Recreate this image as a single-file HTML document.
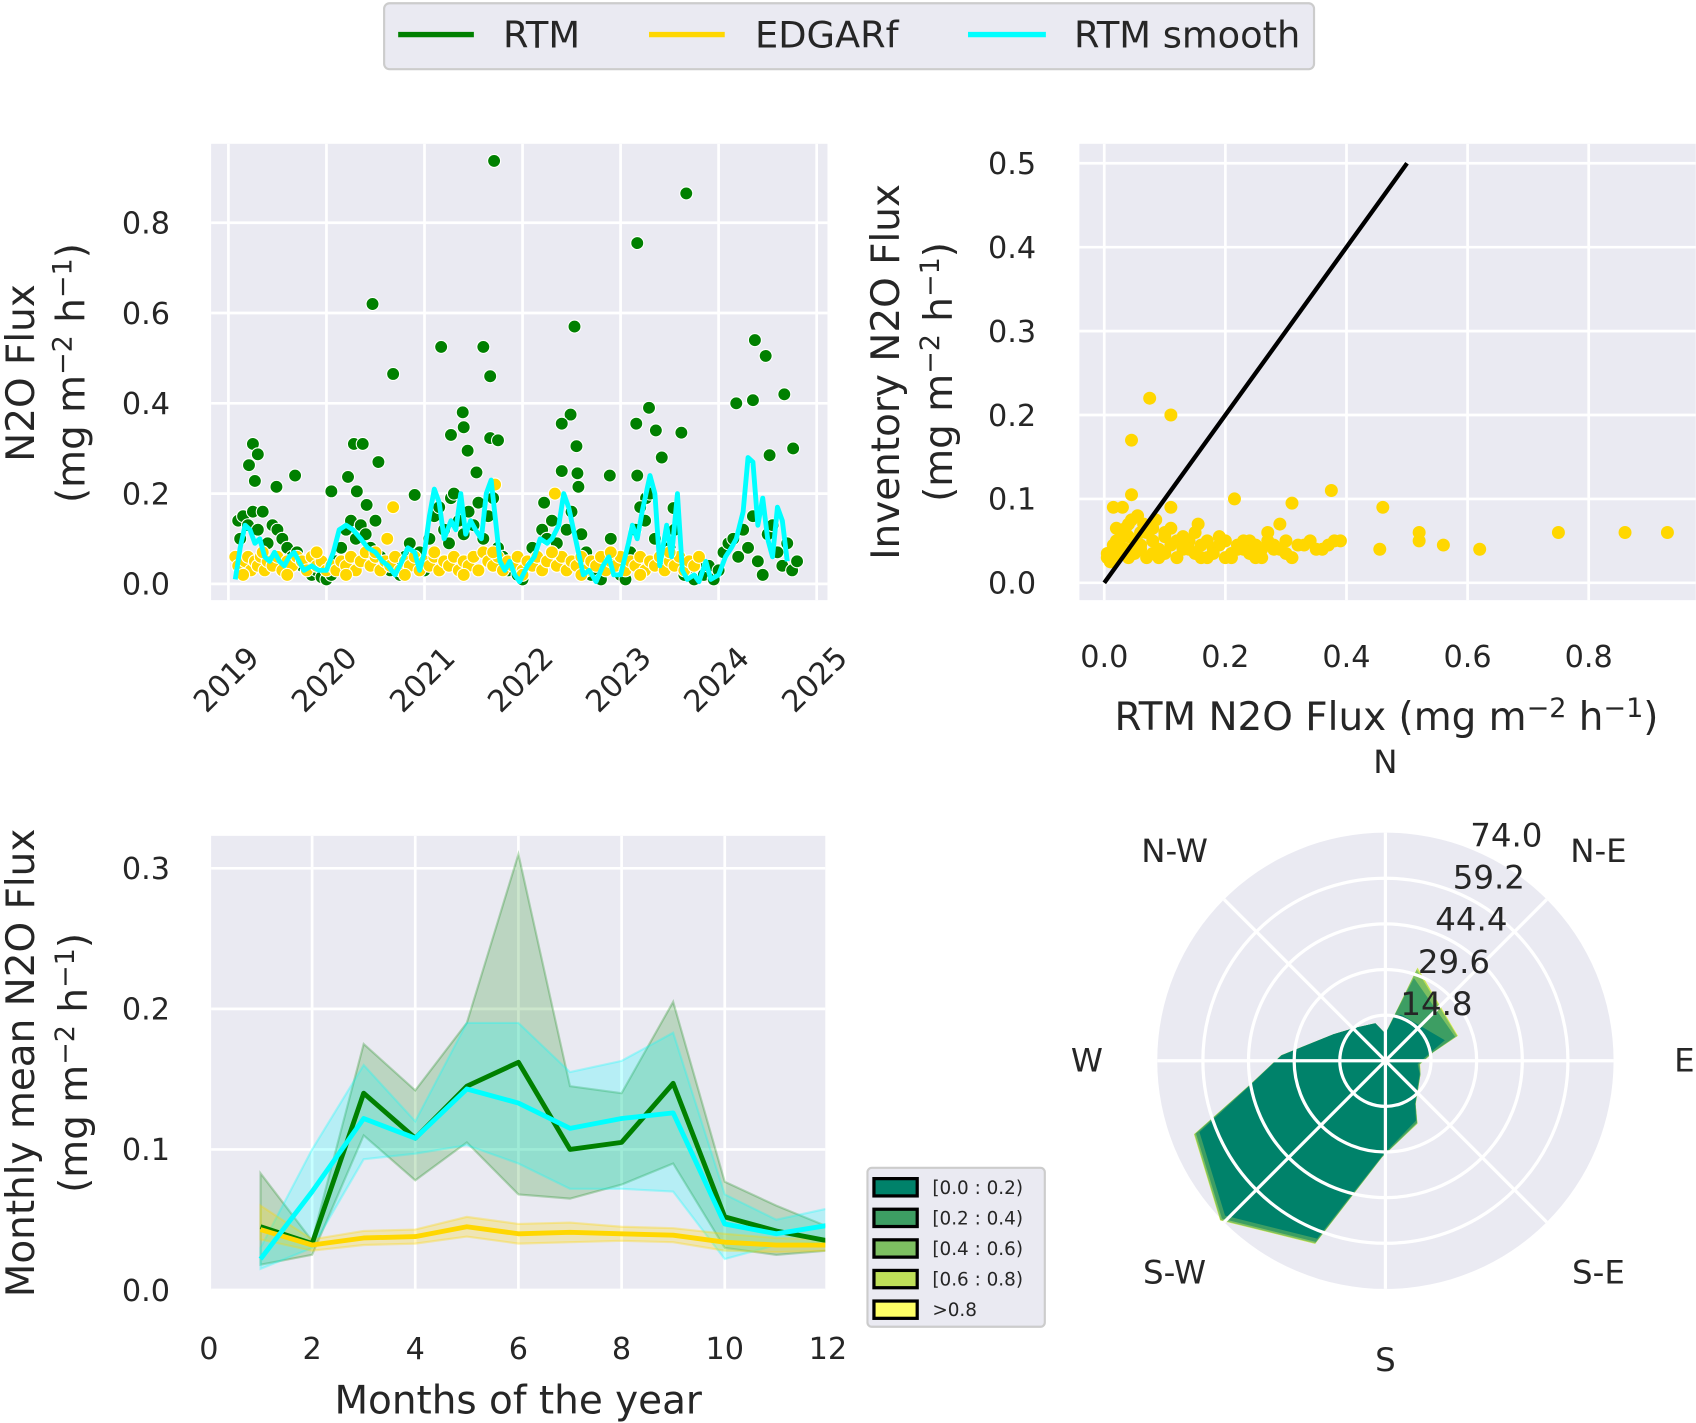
<!DOCTYPE html>
<html><head><meta charset="utf-8">
<style>
html,body{margin:0;padding:0;background:#fff;}
svg{display:block;font-family:"DejaVu Sans","Liberation Sans",sans-serif;}
text{fill:#262626;}
</style></head>
<body>
<svg id="fig" width="1696" height="1423" viewBox="0 0 1568 1316" xmlns="http://www.w3.org/2000/svg">
  <g>
    <rect x="355" y="3" width="860" height="61" rx="5" fill="#eaeaf2" stroke="#cccccc" stroke-width="2"/>
    <line x1="368" y1="32" x2="438" y2="32" stroke="#008000" stroke-width="5"/>
    <text x="465" y="44" font-size="34">RTM</text>
    <line x1="600" y1="32" x2="670" y2="32" stroke="#ffd700" stroke-width="5"/>
    <text x="698" y="44" font-size="34">EDGARf</text>
    <line x1="895" y1="32" x2="967" y2="32" stroke="#00ffff" stroke-width="5"/>
    <text x="993" y="44" font-size="34">RTM smooth</text>
  </g>
  <g id="p1"></g>
  <g id="p2"></g>
  <g id="p3"></g>
  <g id="p4"></g>
</svg>
<script>
// ---------- Panel 1 data ----------
const rtmYears = [2021.71,2023.67,2023.17,2020.47,2022.53,2020.68,2021.17,2021.6,2021.67,2024.37,2024.48,2024.18,2024.35,2024.67,2024.76,2024.52,2023.29,2023.16,2023.36,2023.62,2023.42,2023.17,2022.49,2022.4,2022.55,2022.56,2021.39,2021.4,2021.27,2021.44,2021.67,2021.75,2021.53,2019.25,2019.3,2019.21,2019.27,2019.68,2019.49,2020.28,2020.37,2020.53,2020.22,2020.05,2020.31,2020.41,2020.9,2021.27,2022.22,2022.4,2022.57,2022.89,2023.26,2023.54,
2019.1,2019.12,2019.15,2019.2,2019.25,2019.3,2019.35,2019.4,2019.45,2019.5,2019.55,2019.6,2019.65,2019.7,2019.75,2019.8,2019.85,2019.9,2019.95,2020.0,2020.05,2020.1,2020.15,2020.2,2020.25,2020.3,2020.35,2020.4,2020.45,2020.5,2020.55,2020.6,2020.65,2020.7,2020.75,2020.8,2020.85,2020.9,2020.95,2021.0,2021.05,2021.1,2021.15,2021.2,2021.25,2021.3,2021.35,2021.4,2021.45,2021.5,2021.55,2021.6,2021.65,2021.7,2021.75,2021.8,2021.85,2021.9,2021.95,2022.0,2022.05,2022.1,2022.15,2022.2,2022.25,2022.3,2022.35,2022.45,2022.5,2022.6,2022.65,2022.7,2022.75,2022.8,2022.85,2022.9,2022.95,2023.0,2023.05,2023.1,2023.15,2023.2,2023.25,2023.3,2023.35,2023.4,2023.45,2023.5,2023.55,2023.6,2023.65,2023.7,2023.75,2023.8,2023.85,2023.9,2023.95,2024.0,2024.05,2024.1,2024.15,2024.2,2024.25,2024.3,2024.35,2024.4,2024.45,2024.5,2024.55,2024.6,2024.65,2024.7,2024.75,2024.8];
const rtmValues = [0.937,0.865,0.755,0.62,0.57,0.465,0.525,0.525,0.46,0.54,0.505,0.40,0.407,0.42,0.30,0.285,0.39,0.355,0.34,0.335,0.28,0.24,0.375,0.355,0.305,0.245,0.38,0.347,0.33,0.295,0.323,0.318,0.247,0.31,0.287,0.263,0.228,0.24,0.215,0.31,0.31,0.27,0.237,0.205,0.205,0.175,0.197,0.19,0.18,0.25,0.215,0.24,0.19,0.168,
0.14,0.1,0.15,0.13,0.16,0.12,0.16,0.09,0.13,0.12,0.1,0.08,0.06,0.07,0.04,0.03,0.02,0.03,0.015,0.01,0.02,0.05,0.08,0.12,0.14,0.1,0.13,0.11,0.08,0.14,0.06,0.04,0.03,0.05,0.02,0.06,0.09,0.04,0.07,0.03,0.1,0.15,0.17,0.12,0.09,0.2,0.14,0.11,0.16,0.13,0.18,0.1,0.15,0.19,0.08,0.06,0.03,0.05,0.02,0.01,0.04,0.08,0.06,0.12,0.1,0.14,0.09,0.12,0.16,0.11,0.07,0.02,0.03,0.01,0.06,0.1,0.04,0.02,0.01,0.07,0.12,0.17,0.14,0.2,0.1,0.06,0.04,0.08,0.12,0.05,0.02,0.03,0.01,0.05,0.02,0.04,0.01,0.03,0.07,0.09,0.1,0.06,0.12,0.08,0.15,0.05,0.02,0.11,0.13,0.07,0.04,0.09,0.03,0.05];
const edgarYears = [2019.07,2019.1,2019.13,2019.17,2019.2,2019.23,2019.27,2019.3,2019.33,2019.37,2019.4,2019.45,2019.5,2019.55,2019.6,2019.65,2019.7,2019.75,2019.8,2019.85,2019.9,2019.95,2020.0,2020.05,2020.1,2020.15,2020.2,2020.25,2020.3,2020.35,2020.4,2020.45,2020.5,2020.55,2020.6,2020.65,2020.7,2020.75,2020.8,2020.85,2020.9,2020.95,2021.0,2021.05,2021.1,2021.15,2021.2,2021.25,2021.3,2021.35,2021.4,2021.45,2021.5,2021.55,2021.6,2021.65,2021.7,2021.75,2021.8,2021.85,2021.9,2021.95,2022.0,2022.05,2022.1,2022.15,2022.2,2022.25,2022.3,2022.35,2022.4,2022.45,2022.5,2022.55,2022.6,2022.65,2022.7,2022.75,2022.8,2022.85,2022.9,2022.95,2023.0,2023.05,2023.1,2023.15,2023.2,2023.25,2023.3,2023.35,2023.4,2023.45,2023.5,2023.55,2023.6,2023.65,2023.7,2023.75,2023.8,2019.15,2019.35,2019.6,2019.9,2020.2,2020.5,2020.8,2021.1,2021.4,2021.7,2022.0,2022.3,2022.6,2022.9,2023.2,2023.5,2020.62,2021.72,2022.33,2020.68];
const edgarValues = [0.06,0.04,0.03,0.05,0.06,0.03,0.05,0.04,0.06,0.03,0.05,0.04,0.06,0.03,0.05,0.04,0.06,0.05,0.03,0.06,0.04,0.05,0.03,0.04,0.03,0.05,0.04,0.06,0.03,0.05,0.07,0.04,0.06,0.03,0.05,0.04,0.06,0.03,0.05,0.04,0.06,0.03,0.05,0.04,0.06,0.03,0.05,0.04,0.06,0.03,0.05,0.04,0.06,0.03,0.07,0.05,0.04,0.06,0.03,0.05,0.04,0.06,0.03,0.05,0.04,0.06,0.03,0.05,0.07,0.04,0.06,0.03,0.05,0.04,0.06,0.03,0.05,0.04,0.06,0.03,0.05,0.04,0.06,0.03,0.05,0.04,0.06,0.03,0.05,0.04,0.06,0.03,0.05,0.04,0.06,0.03,0.05,0.04,0.06,0.02,0.07,0.02,0.07,0.02,0.07,0.02,0.07,0.02,0.07,0.02,0.07,0.02,0.07,0.02,0.07,0.1,0.22,0.2,0.17];
const smoothYears = [2019.07,2019.12,2019.17,2019.22,2019.27,2019.32,2019.37,2019.42,2019.47,2019.52,2019.57,2019.62,2019.67,2019.72,2019.77,2019.85,2019.92,2020.0,2020.07,2020.13,2020.2,2020.27,2020.35,2020.42,2020.5,2020.57,2020.63,2020.7,2020.77,2020.83,2020.9,2020.95,2021.0,2021.05,2021.1,2021.15,2021.2,2021.27,2021.32,2021.37,2021.42,2021.47,2021.52,2021.58,2021.63,2021.68,2021.72,2021.77,2021.82,2021.87,2021.92,2021.97,2022.05,2022.12,2022.18,2022.25,2022.3,2022.37,2022.42,2022.47,2022.52,2022.57,2022.62,2022.68,2022.75,2022.82,2022.88,2022.93,2023.0,2023.08,2023.12,2023.17,2023.22,2023.3,2023.35,2023.4,2023.47,2023.52,2023.58,2023.63,2023.68,2023.75,2023.8,2023.87,2023.92,2024.0,2024.07,2024.13,2024.18,2024.25,2024.3,2024.35,2024.4,2024.45,2024.5,2024.55,2024.6,2024.65,2024.7];
const smoothValues = [0.01,0.08,0.13,0.12,0.09,0.1,0.06,0.05,0.07,0.05,0.04,0.06,0.07,0.05,0.03,0.04,0.03,0.03,0.07,0.12,0.13,0.12,0.1,0.08,0.07,0.05,0.04,0.02,0.05,0.08,0.07,0.03,0.07,0.15,0.21,0.18,0.1,0.14,0.12,0.2,0.11,0.14,0.12,0.1,0.2,0.23,0.15,0.05,0.03,0.05,0.02,0.005,0.04,0.06,0.1,0.09,0.1,0.13,0.2,0.17,0.12,0.07,0.02,0.03,0.005,0.04,0.06,0.02,0.02,0.09,0.13,0.1,0.16,0.24,0.2,0.04,0.13,0.06,0.2,0.03,0.01,0.02,0.005,0.05,0.01,0.02,0.06,0.08,0.1,0.16,0.28,0.27,0.13,0.19,0.1,0.06,0.17,0.14,0.05];
const p1YearTicks = [2019,2020,2021,2022,2023,2024,2025];
const p1ValueTicks = [0.0,0.2,0.4,0.6,0.8];

// ---------- Panel 2 data ----------
const scRtm = [0.075,0.11,0.045,0.045,0.015,0.03,0.11,0.155,0.215,0.31,0.375,0.46,0.86,0.93,0.75,0.52,0.52,0.56,0.62,0.455,0.38,0.31,
0.005,0.01,0.015,0.02,0.025,0.03,0.035,0.04,0.05,0.06,0.07,0.08,0.09,0.1,0.11,0.12,0.13,0.14,0.15,0.16,0.17,0.18,0.19,0.2,0.21,0.22,0.23,0.24,0.25,0.26,0.27,0.28,0.29,0.3,0.32,0.34,0.36,0.01,0.02,0.03,0.04,0.05,0.06,0.07,0.08,0.09,0.1,0.12,0.14,0.16,0.18,0.2,0.22,0.24,0.26,0.28,0.3,0.33,0.35,0.02,0.04,0.06,0.08,0.1,0.13,0.15,0.19,0.23,0.27,0.005,0.015,0.025,0.035,0.045,0.055,0.065,0.085,0.11,0.17,0.21,0.25,0.29,0.37,0.39];
const scInv = [0.22,0.2,0.17,0.105,0.09,0.09,0.09,0.07,0.1,0.095,0.11,0.09,0.06,0.06,0.06,0.06,0.05,0.045,0.04,0.04,0.05,0.03,
0.03,0.035,0.04,0.05,0.045,0.06,0.04,0.055,0.05,0.045,0.06,0.05,0.04,0.055,0.045,0.05,0.04,0.05,0.035,0.045,0.05,0.04,0.045,0.05,0.035,0.045,0.04,0.05,0.045,0.04,0.05,0.045,0.04,0.05,0.045,0.05,0.04,0.025,0.03,0.035,0.03,0.035,0.04,0.03,0.035,0.03,0.035,0.03,0.04,0.03,0.035,0.03,0.04,0.035,0.03,0.04,0.035,0.045,0.04,0.065,0.07,0.06,0.065,0.06,0.055,0.06,0.055,0.05,0.06,0.035,0.045,0.05,0.065,0.075,0.08,0.07,0.075,0.065,0.03,0.03,0.03,0.07,0.045,0.05];
const p2XTicks = [0.0,0.2,0.4,0.6,0.8];
const p2YTicks = [0.0,0.1,0.2,0.3,0.4,0.5];

// ---------- Panel 3 data ----------
const months = [1,2,3,4,5,6,7,8,9,10,11,12];
const rtmMean = [0.045,0.033,0.14,0.108,0.145,0.162,0.1,0.105,0.147,0.052,0.042,0.035];
const rtmLow = [0.018,0.025,0.11,0.078,0.105,0.068,0.065,0.075,0.09,0.03,0.025,0.028];
const rtmHigh = [0.083,0.035,0.175,0.142,0.19,0.31,0.145,0.14,0.205,0.077,0.06,0.045];
const smMean = [0.022,0.07,0.122,0.108,0.143,0.133,0.115,0.122,0.126,0.047,0.04,0.046];
const smLow = [0.015,0.03,0.093,0.097,0.103,0.09,0.072,0.072,0.07,0.022,0.032,0.034];
const smHigh = [0.03,0.1,0.16,0.12,0.19,0.19,0.155,0.163,0.183,0.068,0.05,0.058];
const edMean = [0.043,0.032,0.037,0.038,0.045,0.04,0.041,0.04,0.039,0.034,0.032,0.032];
const edLow = [0.036,0.028,0.032,0.033,0.038,0.033,0.034,0.035,0.034,0.028,0.027,0.028];
const edHigh = [0.06,0.036,0.042,0.043,0.052,0.047,0.048,0.045,0.044,0.04,0.037,0.036];
const p3XTicks = [0,2,4,6,8,10,12];
const p3YTicks = [0.0,0.1,0.2,0.3];

// ---------- Panel 4 data (windrose) ----------
const roseAngles = [0,12,19,71,80,96,111,145,153,182,201,226,249,260,273,297,316,345];
const roseL0 = [8.8,15.1,15.8,20.4,14.7,10.5,11.9,16.8,21.8,30.9,61.8,72.3,64.6,44.2,33.7,18.9,14.7,12.6];
const roseL1 = [0,0.6,12.6,3.5,0.8,0.5,0.2,0.2,0.7,0.3,1.1,1.4,1.2,0.3,0.1,0,0,0];
const roseL2 = [0,0.2,2.8,0.7,0.2,0.2,0.1,0.1,0.3,0.1,0.5,0.6,0.5,0.1,0,0,0,0];
const roseL3 = [0,0.1,0.7,0.2,0.1,0.1,0,0,0.1,0,0.2,0.2,0.2,0,0,0,0,0];
const roseL4 = [0,0,0.1,0.1,0,0,0,0,0,0,0,0,0,0,0,0,0,0];
const roseRingTicks = [14.8,29.6,44.4,59.2,74.0];
const roseDirLabels = ["N","N-E","E","S-E","S","S-W","W","N-W"];
const roseBins = ["[0.0 : 0.2)","[0.2 : 0.4)","[0.4 : 0.6)","[0.6 : 0.8)",">0.8"];
const roseColors = ["#00826a","#3d9e63","#7dbf61","#bfdf59","#ffff66"];

const NS='http://www.w3.org/2000/svg';
function mk(parent, tag, attrs, txt){
  const e=document.createElementNS(NS,tag);
  for(const k in attrs) e.setAttribute(k,attrs[k]);
  if(txt!==undefined) e.textContent=txt;
  parent.appendChild(e); return e;
}
function fmt1(v){return v.toFixed(1);}
const UNITS='(mg m<tspan dy="-12" font-size="25">−2</tspan><tspan dy="12"> h</tspan><tspan dy="-12" font-size="25">−1</tspan><tspan dy="12">)</tspan>';

// ===== Panel 1 =====
(function(){
  const g=document.getElementById('p1');
  const X=y=>211+90.67*(y-2019), Y=v=>540-417.5*v;
  const bg=mk(g,'rect',{x:195,y:133,width:570,height:422,fill:'#eaeaf2'});
  
  
  p1YearTicks.forEach(t=>{
    const l=mk(g,'line',{x1:X(t),x2:X(t),y1:133,y2:555,stroke:'#fff','stroke-width':2.5});
    
    
    const ax=X(t)+30, ay=610;
    const tx=mk(g,'text',{x:ax,y:ay,'font-size':28,'text-anchor':'end',transform:`rotate(-45 ${ax} ${ay})`},String(t));
    
    
  });
  p1ValueTicks.forEach(t=>{
    const l=mk(g,'line',{x1:195,x2:765,y1:Y(t),y2:Y(t),stroke:'#fff','stroke-width':2.5});
    
    
    const tx=mk(g,'text',{x:157,y:Y(t)+10,'font-size':28,'text-anchor':'end'},fmt1(t));
    
    
  });
  rtmYears.forEach((yr,i)=>{
    const c=mk(g,'circle',{cx:X(yr),cy:Y(rtmValues[i]),r:6,fill:'#008000',stroke:'#fff','stroke-width':1});
    
    
  });
  edgarYears.forEach((yr,i)=>{
    const c=mk(g,'circle',{cx:X(yr),cy:Y(edgarValues[i]),r:6,fill:'#ffd700',stroke:'#fff','stroke-width':1});
    
    
  });
  const pts=smoothYears.map((yr,i)=>X(yr)+','+Y(smoothValues[i])).join(' ');
  const pl=mk(g,'polyline',{points:pts,fill:'none',stroke:'#00ffff','stroke-width':4.5,'stroke-linejoin':'round'});
  
  
  const yl=mk(g,'text',{x:0,y:0,'font-size':36,'text-anchor':'middle',transform:'translate(31 345) rotate(-90)'},'N2O Flux');
  
  
  const yl2=mk(g,'text',{x:0,y:0,'font-size':36,'text-anchor':'middle',transform:'translate(78 345) rotate(-90)'});
  yl2.innerHTML=UNITS;
  
  
})();

// ===== Panel 2 =====
(function(){
  const g=document.getElementById('p2');
  const X=v=>1021+560*v, Y=v=>539-776*v;
  const bg=mk(g,'rect',{x:998,y:133,width:570,height:422,fill:'#eaeaf2'});
  
  
  p2XTicks.forEach(t=>{
    const l=mk(g,'line',{x1:X(t),x2:X(t),y1:133,y2:555,stroke:'#fff','stroke-width':2.5});
    
    
    const tx=mk(g,'text',{x:X(t),y:617,'font-size':28,'text-anchor':'middle'},fmt1(t));
    
    
  });
  p2YTicks.forEach(t=>{
    const l=mk(g,'line',{x1:998,x2:1568,y1:Y(t),y2:Y(t),stroke:'#fff','stroke-width':2.5});
    
    
    const tx=mk(g,'text',{x:958,y:Y(t)+10,'font-size':28,'text-anchor':'end'},fmt1(t));
    
    
  });
  scRtm.forEach((v,i)=>{
    const c=mk(g,'circle',{cx:X(v),cy:Y(scInv[i]),r:6,fill:'#ffd700'});
    
    
  });
  const ln=mk(g,'line',{x1:X(0),y1:Y(0),x2:X(0.5),y2:Y(0.5),stroke:'#000','stroke-width':4});
  
  
  const xl=mk(g,'text',{x:1282,y:675,'font-size':36,'text-anchor':'middle'});
  xl.innerHTML='RTM N2O Flux '+UNITS;
  
  
  const yl=mk(g,'text',{x:0,y:0,'font-size':36,'text-anchor':'middle',transform:'translate(831 344) rotate(-90)'},'Inventory N2O Flux');
  
  
  const yl2=mk(g,'text',{x:0,y:0,'font-size':36,'text-anchor':'middle',transform:'translate(880 344) rotate(-90)'});
  yl2.innerHTML=UNITS;
  
  
})();

// ===== Panel 3 =====
(function(){
  const g=document.getElementById('p3');
  const X=m=>193+47.7*m, Y=v=>1193-1300*v;
  const bg=mk(g,'rect',{x:195,y:773,width:568,height:420,fill:'#eaeaf2'});
  
  
  const cp=mk(g,'clipPath',{id:'c3'}); mk(cp,'rect',{x:195,y:700,width:568,height:493});
  p3XTicks.forEach(t=>{
    if(t>0&&t<12){const l=mk(g,'line',{x1:X(t),x2:X(t),y1:773,y2:1193,stroke:'#fff','stroke-width':2.5});
    
    }
    const tx=mk(g,'text',{x:X(t),y:1257,'font-size':28,'text-anchor':'middle'},String(t));
    
    
  });
  p3YTicks.forEach(t=>{
    const l=mk(g,'line',{x1:195,x2:763,y1:Y(t),y2:Y(t),stroke:'#fff','stroke-width':2.5});
    
    
    const tx=mk(g,'text',{x:157,y:Y(t)+10,'font-size':28,'text-anchor':'end'},fmt1(t));
    
    
  });
  const gc=mk(g,'g',{'clip-path':'url(#c3)'});
  function band(lo,hi,col,op,name){
    const up=months.map((m,i)=>X(m)+','+Y(hi[i]));
    const dn=months.map((m,i)=>X(m)+','+Y(lo[i])).reverse();
    const p=mk(gc,'polygon',{points:up.concat(dn).join(' '),fill:col,'fill-opacity':op,stroke:col,'stroke-opacity':op*1.3,'stroke-width':2});
    
    
  }
  function line(vals,col,name){
    const p=mk(gc,'polyline',{points:months.map((m,i)=>X(m)+','+Y(vals[i])).join(' '),fill:'none',stroke:col,'stroke-width':4.5,'stroke-linejoin':'round'});
    
    
  }
  band(rtmLow,rtmHigh,'#008000',0.2,'rtm-ci-band');
  band(smLow,smHigh,'#00ffff',0.22,'smooth-ci-band');
  band(edLow,edHigh,'#ffd700',0.25,'edgar-ci-band');
  line(rtmMean,'#008000','rtm-monthly-line');
  line(edMean,'#ffd700','edgar-monthly-line');
  line(smMean,'#00ffff','smooth-monthly-line');
  const xl=mk(g,'text',{x:479,y:1307,'font-size':36,'text-anchor':'middle'},'Months of the year');
  
  
  const yl=mk(g,'text',{x:0,y:0,'font-size':36,'text-anchor':'middle',transform:'translate(31 983) rotate(-90)'},'Monthly mean N2O Flux');
  
  
  const yl2=mk(g,'text',{x:0,y:0,'font-size':36,'text-anchor':'middle',transform:'translate(80 983) rotate(-90)'});
  yl2.innerHTML=UNITS;
  
  
})();

// ===== Panel 4 =====
(function(){
  const g=document.getElementById('p4');
  const cx=1281, cy=981, R=211, maxV=74.0;
  const rr=v=>R*v/maxV;
  const P=(a,r)=>[cx+r*Math.sin(a*Math.PI/180), cy-r*Math.cos(a*Math.PI/180)];
  const bg=mk(g,'circle',{cx:cx,cy:cy,r:R,fill:'#eaeaf2'});
  
  
  const layers=[roseL0,roseL1,roseL2,roseL3,roseL4];
  for(let k=layers.length-1;k>=0;k--){
    const pts=roseAngles.map((a,i)=>{let s=0;for(let j=0;j<=k;j++)s+=layers[j][i];return P(a,rr(s)).join(',');}).join(' ');
    const p=mk(g,'polygon',{points:pts,fill:roseColors[k]});
    
    
  }
  roseRingTicks.slice(0,4).forEach(t=>{
    const c=mk(g,'circle',{cx:cx,cy:cy,r:rr(t),fill:'none',stroke:'#fff','stroke-width':3});
    
    
  });
  for(let a=0;a<360;a+=45){
    const e=P(a,R);
    const l=mk(g,'line',{x1:cx,y1:cy,x2:e[0],y2:e[1],stroke:'#fff','stroke-width':3});
    
    
  }
  roseRingTicks.forEach(t=>{
    const p=P(22.5,rr(t)+8);
    const tx=mk(g,'text',{x:p[0]+28,y:p[1]+4,'font-size':30,'text-anchor':'middle'},t.toFixed(1));
    
    
  });
  const dirPos={0:[cx,715,'middle'],45:[1478,797,'middle'],90:[1548,991,'start'],135:[1478,1187,'middle'],180:[cx,1268,'middle'],225:[1086,1187,'middle'],270:[1005,991,'middle'],315:[1086,797,'middle']};
  roseDirLabels.forEach((lab,i)=>{
    const p=dirPos[i*45];
    const tx=mk(g,'text',{x:p[0],y:p[1],'font-size':30,'text-anchor':p[2]},lab);
    
    
  });
  const lg=mk(g,'g',{});
  
  
  mk(lg,'rect',{x:802,y:1080,width:164,height:147,rx:4,fill:'#eaeaf2',stroke:'#cccccc','stroke-width':2});
  roseBins.forEach((b,i)=>{
    const y=1098+28.3*i;
    const r=mk(lg,'rect',{x:808,y:y-8,width:40,height:16,fill:roseColors[i],stroke:'#000','stroke-width':3});
    
    
    const t=mk(lg,'text',{x:862,y:y+6,'font-size':17},b);
    
    
  });
})();
</script>
</body></html>
